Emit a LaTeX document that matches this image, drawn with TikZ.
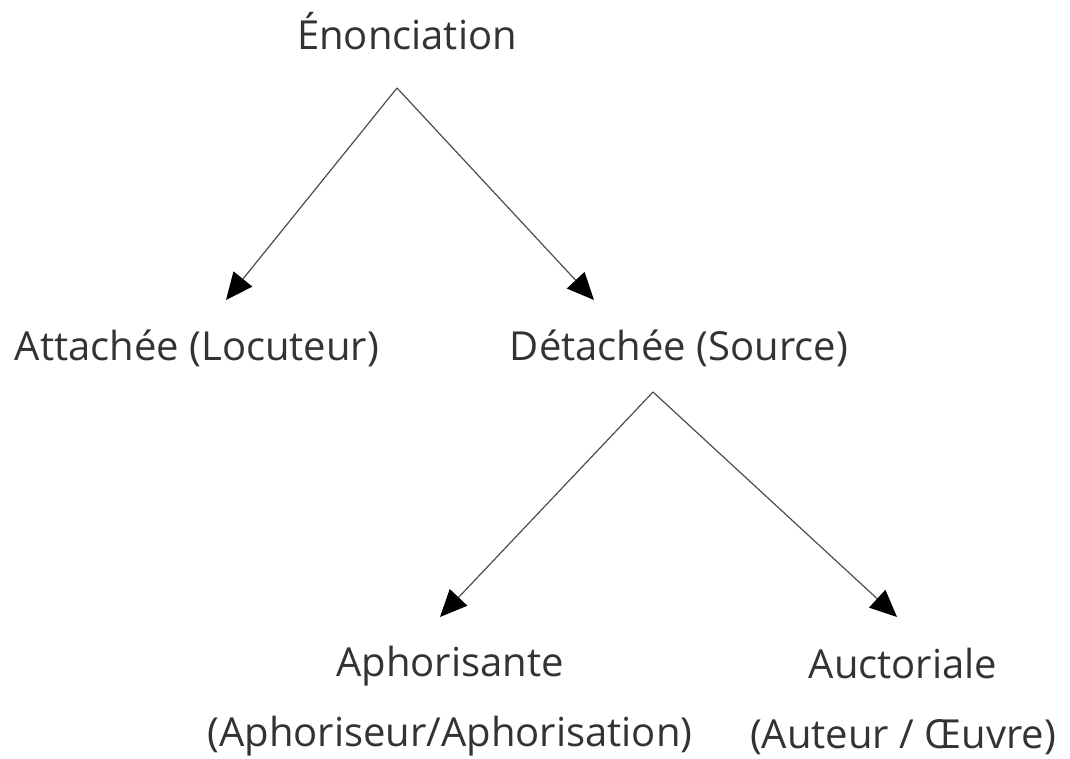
\documentclass[tikz,border=0pt]{standalone}
\usepackage{fontspec}
\setmainfont{Open Sans}[Ligatures=NoCommon]
\usetikzlibrary{arrows.meta}
\tikzset{
  label/.style={inner sep=0pt, align=center, font=\fontsize{40}{70}\selectfont, text=black!80},
  branch/.style={draw=black!70, line width=1.2pt, -{Triangle[length=27pt,width=24pt,color=black]}}
}
\begin{document}
\begin{tikzpicture}[x=1pt,y=-1pt]
  \useasboundingbox (0,0) rectangle (1070,759);
  % tree labels
  \node[label] (enon) at (407,31) {Énonciation};
  \node[label] (att) at (197,348) {Attachée (Locuteur)};
  \node[label] (det) at (679,348) {Détachée (Source)};
  \node[label] (aph) at (450,701) {Aphorisante\\(Aphoriseur/Aphorisation)};
  \node[label] (auc) at (903,701) {Auctoriale\\(Auteur / Œuvre)};
  % branch points and arrow ends
  \coordinate (enon-fork) at (397,88);
  \coordinate (det-fork) at (653,392);
  \coordinate (att-in) at (226,300);
  \coordinate (det-in) at (594,300);
  \coordinate (aph-in) at (440,617);
  \coordinate (auc-in) at (897,617);
  \draw[branch] (enon-fork) -- (att-in);
  \draw[branch] (enon-fork) -- (det-in);
  \draw[branch] (det-fork) -- (aph-in);
  \draw[branch] (det-fork) -- (auc-in);
\end{tikzpicture}
\end{document}
